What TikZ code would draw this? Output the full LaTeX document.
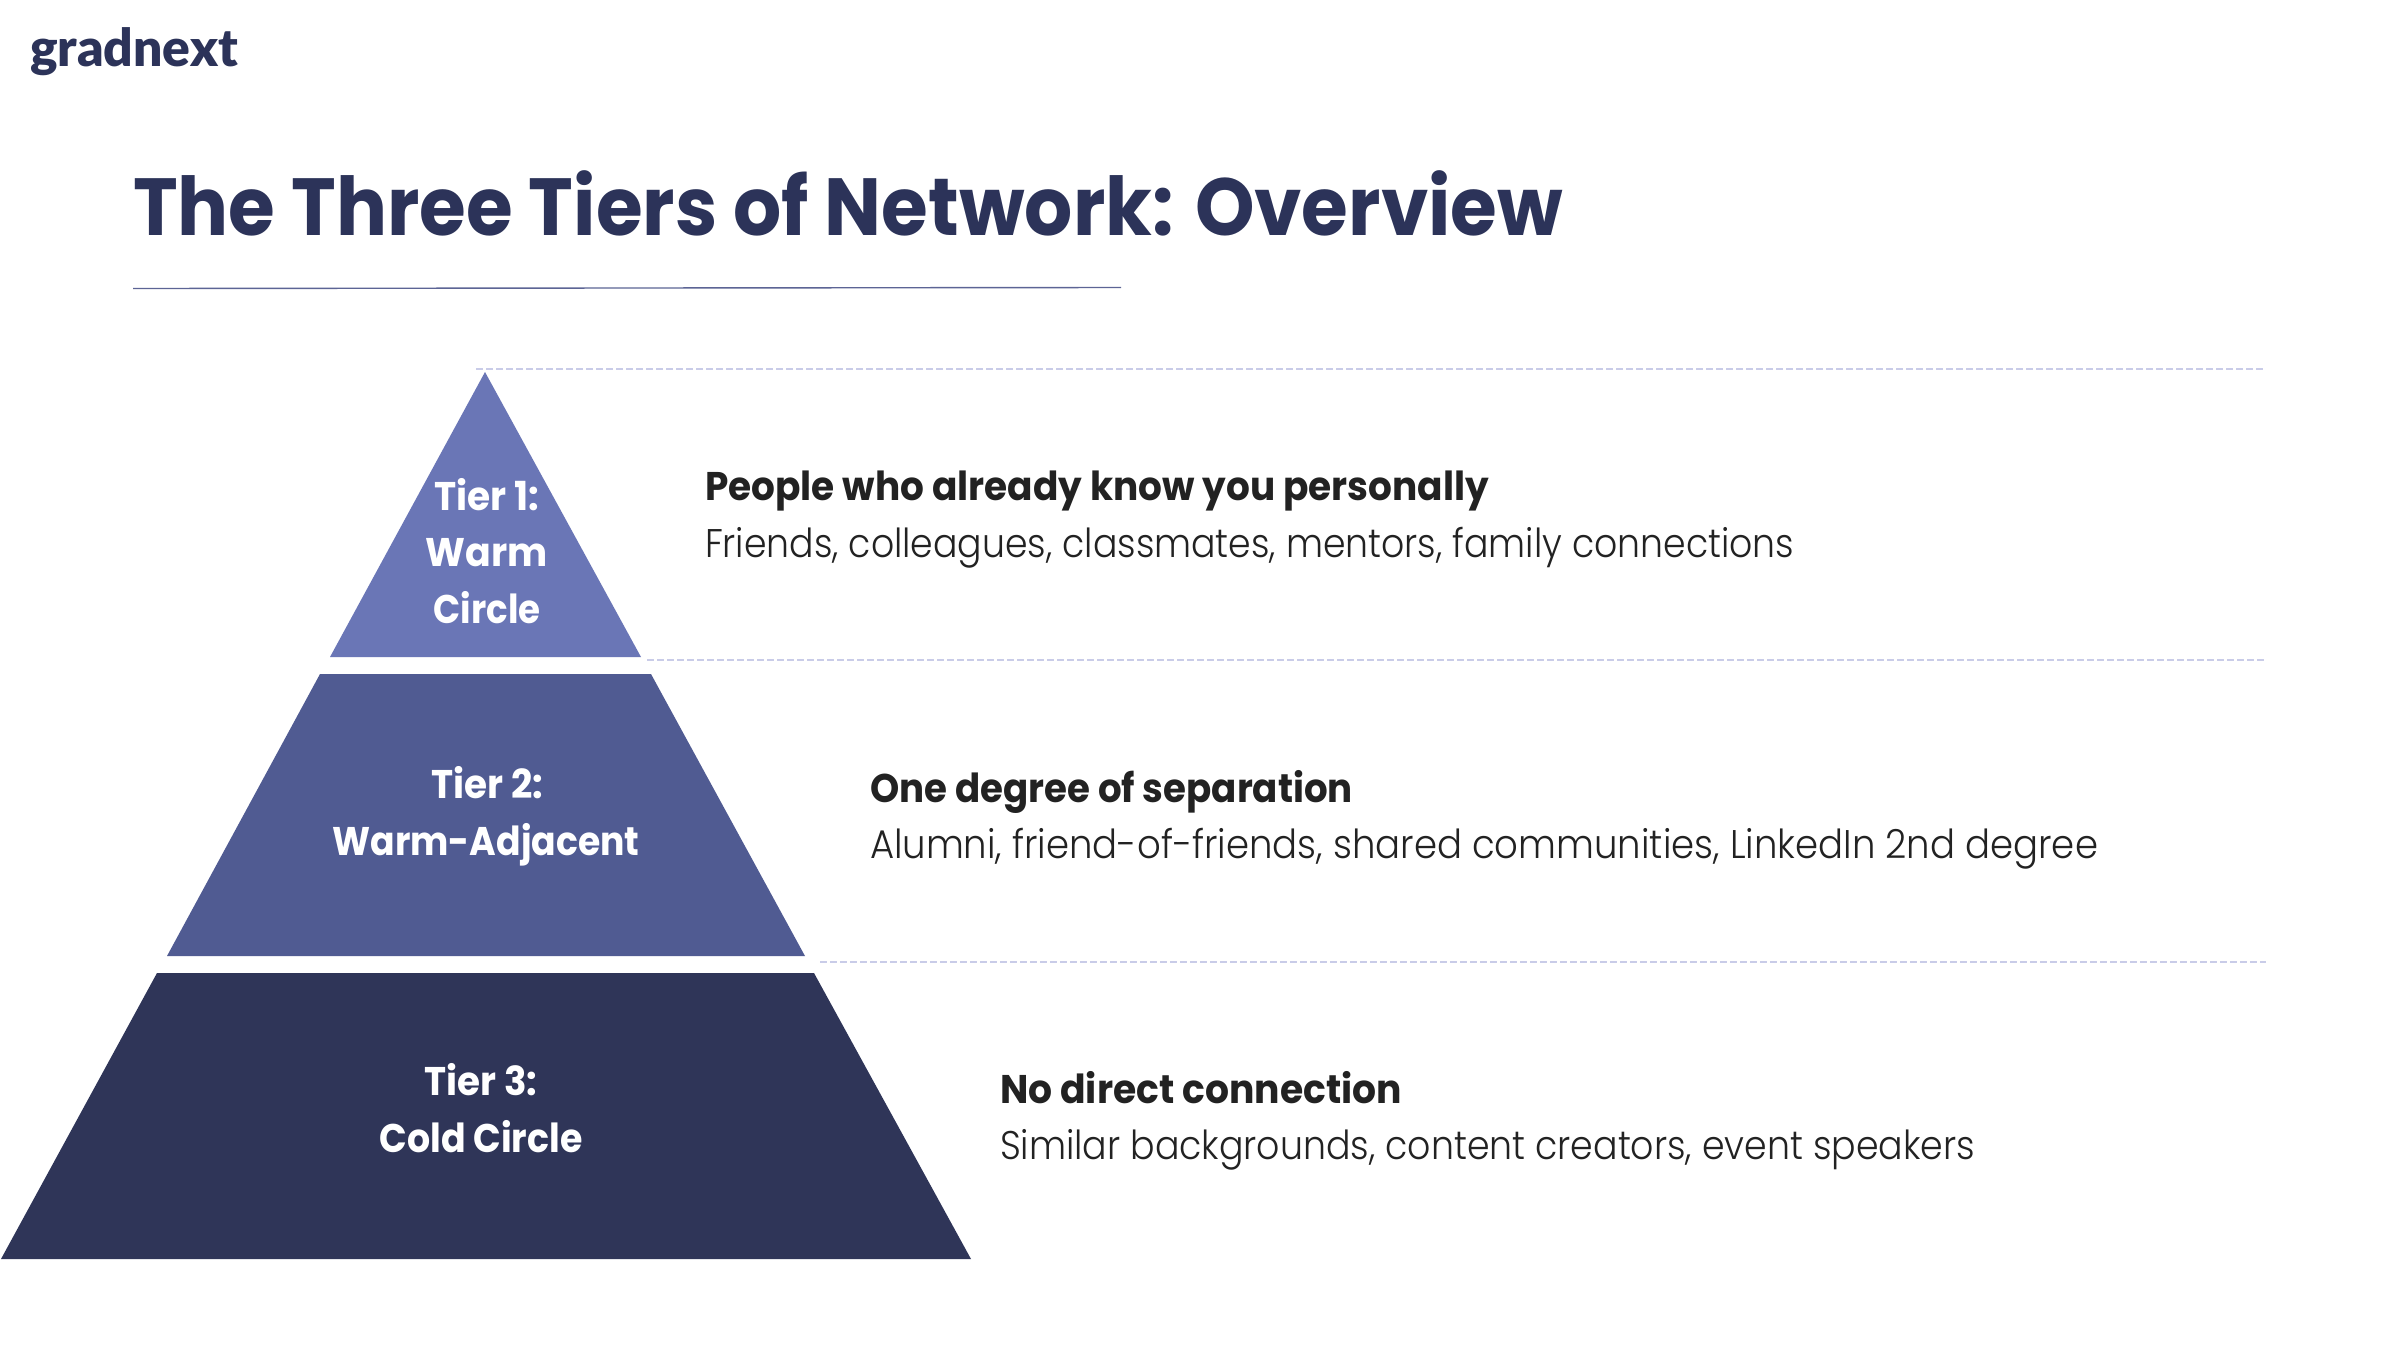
\documentclass[tikz,border=0pt]{standalone}
\usepackage{fontspec}
\setmainfont{Poppins}
\newfontfamily\lightf{Poppins Light}
\newfontfamily\logof{Lato Black}
\definecolor{tierA}{HTML}{6A76B6}
\definecolor{tierB}{HTML}{505B92}
\definecolor{tierC}{HTML}{2F3558}
\definecolor{navy}{HTML}{2C3359}
\definecolor{ink}{HTML}{222222}
\definecolor{dashc}{HTML}{C9CCE8}
\definecolor{rulec}{HTML}{5C6495}
\newcommand{\fw}[2]{\resizebox{\dimexpr #1pt/2\relax}{\height}{#2}}
\tikzset{
  txt/.style={inner sep=0pt,outer sep=0pt,anchor=base west},
  lab/.style={inner sep=0pt,outer sep=0pt,anchor=base,text=white,font=\fontsize{20}{24}\selectfont\bfseries},
  head/.style={txt,text=ink,font=\fontsize{20}{24}\selectfont\bfseries},
  body/.style={txt,text=ink,font=\fontsize{20}{24}\selectfont\lightf},
  guide/.style={draw=dashc,line width=1.3pt,dash pattern=on 3.7pt off 1.3pt}
}
\begin{document}
\begin{tikzpicture}[x=0.5pt,y=-0.5pt]
\useasboundingbox (0,0) rectangle (2400,1350);
\fill[white] (0,0) rectangle (2400,1350);
% pyramid
\fill[tierA] (485,372) -- (641,657) -- (330,657) -- cycle;
\fill[tierB] (320,674) -- (651,674) -- (805,956) -- (167,956) -- cycle;
\fill[tierC] (157,973) -- (814,973) -- (971,1259) -- (1,1259) -- cycle;
% guides
\coordinate (g1a) at (476,369); \coordinate (g1b) at (2264,369);
\coordinate (g2a) at (647,660); \coordinate (g2b) at (2266,660);
\coordinate (g3a) at (820,962); \coordinate (g3b) at (2266,962);
\draw[guide] (g1a) -- (g1b);
\draw[guide] (g2a) -- (g2b);
\draw[guide] (g3a) -- (g3b);
% title
\node[txt,text=navy,font=\fontsize{26}{30}\selectfont\logof] (logo) at (30,66) {\fw{208}{gradnext}};
\node[txt,text=navy,font=\fontsize{40.5}{48}\selectfont\bfseries] (title) at (133,235) {\fw{1430}{The Three Tiers of Network: Overview}};
\coordinate (ra) at (133,288.5); \coordinate (rb) at (1121,287.5);
\draw[rulec,line width=0.7pt] (ra) -- (rb);
% tier labels
\node[lab] (t1a) at (486.5,510) {\fw{105}{Tier 1:}};
\node[lab] (t1b) at (486.5,566) {\fw{122}{Warm}};
\node[lab] (t1c) at (487,623) {\fw{107}{Circle}};
\node[lab] (t2a) at (487,798) {\fw{112}{Tier 2:}};
\node[lab] (t2b) at (486,855) {\fw{307}{Warm-Adjacent}};
\node[lab] (t3a) at (481,1095) {\fw{113}{Tier 3:}};
\node[lab] (t3b) at (481,1152) {\fw{203}{Cold Circle}};
% descriptions
\node[head] (h1) at (705,500) {\fw{784}{People who already know you personally}};
\node[body] (b1) at (705,557) {\fw{1089}{Friends, colleagues, classmates, mentors, family connections}};
\node[head] (h2) at (870,802) {\fw{483}{One degree of separation}};
\node[body] (b2) at (870,858) {\fw{1228}{Alumni, friend-of-friends, shared communities, LinkedIn 2nd degree}};
\node[head] (h3) at (1000,1103) {\fw{402}{No direct connection}};
\node[body] (b3) at (1000,1159) {\fw{975}{Similar backgrounds, content creators, event speakers}};
\end{tikzpicture}
\end{document}
